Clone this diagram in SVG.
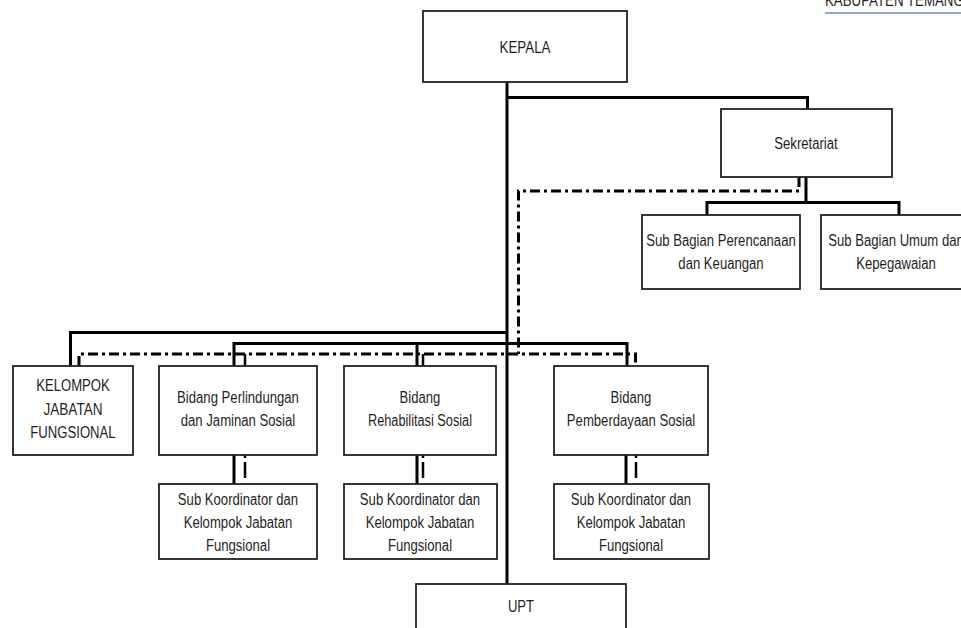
<svg xmlns="http://www.w3.org/2000/svg" width="961" height="628" viewBox="0 0 961 628">
<style>
.box{fill:#fff;stroke:#222;stroke-width:1.8}
.t{font-family:"Liberation Sans Narrow","Liberation Sans",Arial,sans-serif;font-size:16px;fill:#1f1f1f;text-anchor:middle}
.s{fill:none;stroke:#000;stroke-width:3}
.d{fill:none;stroke:#000;stroke-width:3;stroke-dasharray:10 4 3 4}
</style>
<rect width="961" height="628" fill="#fff"/>
<g id="header">
<text class="t" x="825" y="6" style="text-anchor:start" textLength="178.6" lengthAdjust="spacingAndGlyphs">KABUPATEN TEMANGGUNG</text>
<line x1="825" y1="13" x2="961" y2="13" stroke="#8fa8d6" stroke-width="2"/>
</g>
<g id="connectors">
<path class="s" d="M507 82V584M507 97.5H807.5V109M806 177V202.5M707 215V202.5H899V215M70.5 366V332.5H507M234 366V343.5H627V366M417 343.5V366M234 455V484M417 455V484M626 455V484"/>
<path class="d" d="M799 177V191H518.5V354"/>
<path class="d" d="M79 366V354H635.5V366"/>
<path class="s" d="M245 354V366M423 354V366" style="stroke-width:2.5"/>
<path class="s" d="M245 455V458M245 462V478M423 455V458M423 462V478M636 455V458M636 462V478" style="stroke-width:2.5"/>
</g>
<g id="kepala"><rect class="box" x="423" y="11" width="204" height="71"/>
<text class="t" x="525" y="52.5" textLength="51" lengthAdjust="spacingAndGlyphs">KEPALA</text></g>
<g id="sekretariat"><rect class="box" x="721" y="109" width="171" height="68"/>
<text class="t" x="806" y="148.5" textLength="63.4" lengthAdjust="spacingAndGlyphs">Sekretariat</text></g>
<g id="subbag-perencanaan"><rect class="box" x="642" y="215" width="158" height="74"/>
<text class="t" x="721" y="246" textLength="149.5" lengthAdjust="spacingAndGlyphs">Sub Bagian Perencanaan</text>
<text class="t" x="721" y="269" textLength="85.3" lengthAdjust="spacingAndGlyphs">dan Keuangan</text></g>
<g id="subbag-umum"><rect class="box" x="821" y="215" width="160" height="74"/>
<text class="t" x="896" y="246" textLength="135.6" lengthAdjust="spacingAndGlyphs">Sub Bagian Umum dan</text>
<text class="t" x="896" y="269" textLength="79.5" lengthAdjust="spacingAndGlyphs">Kepegawaian</text></g>
<g id="kelompok-jabatan"><rect class="box" x="13" y="366" width="120" height="89"/>
<text class="t" x="73" y="391" textLength="73.6" lengthAdjust="spacingAndGlyphs">KELOMPOK</text>
<text class="t" x="73" y="414.5" textLength="59.1" lengthAdjust="spacingAndGlyphs">JABATAN</text>
<text class="t" x="73" y="437.5" textLength="85.3" lengthAdjust="spacingAndGlyphs">FUNGSIONAL</text></g>
<g id="bidang-perlindungan"><rect class="box" x="159" y="366" width="158" height="89"/>
<text class="t" x="238" y="403" textLength="121.8" lengthAdjust="spacingAndGlyphs">Bidang Perlindungan</text>
<text class="t" x="238" y="426" textLength="114.5" lengthAdjust="spacingAndGlyphs">dan Jaminan Sosial</text></g>
<g id="bidang-rehabilitasi"><rect class="box" x="344" y="366" width="152" height="89"/>
<text class="t" x="420" y="403" textLength="40.8" lengthAdjust="spacingAndGlyphs">Bidang</text>
<text class="t" x="420" y="426" textLength="104" lengthAdjust="spacingAndGlyphs">Rehabilitasi Sosial</text></g>
<g id="bidang-pemberdayaan"><rect class="box" x="554" y="366" width="154" height="89"/>
<text class="t" x="631" y="403" textLength="40.8" lengthAdjust="spacingAndGlyphs">Bidang</text>
<text class="t" x="631" y="426" textLength="128.3" lengthAdjust="spacingAndGlyphs">Pemberdayaan Sosial</text></g>
<g id="subkoor-1"><rect class="box" x="159" y="484" width="158" height="75"/>
<text class="t" x="238" y="505" textLength="120.3" lengthAdjust="spacingAndGlyphs">Sub Koordinator dan</text>
<text class="t" x="238" y="528" textLength="108.7" lengthAdjust="spacingAndGlyphs">Kelompok Jabatan</text>
<text class="t" x="238" y="551" textLength="64.2" lengthAdjust="spacingAndGlyphs">Fungsional</text></g>
<g id="subkoor-2"><rect class="box" x="344" y="484" width="153" height="75"/>
<text class="t" x="420" y="505" textLength="120.3" lengthAdjust="spacingAndGlyphs">Sub Koordinator dan</text>
<text class="t" x="420" y="528" textLength="108.7" lengthAdjust="spacingAndGlyphs">Kelompok Jabatan</text>
<text class="t" x="420" y="551" textLength="64.2" lengthAdjust="spacingAndGlyphs">Fungsional</text></g>
<g id="subkoor-3"><rect class="box" x="554" y="484" width="155" height="75"/>
<text class="t" x="631" y="505" textLength="120.3" lengthAdjust="spacingAndGlyphs">Sub Koordinator dan</text>
<text class="t" x="631" y="528" textLength="108.7" lengthAdjust="spacingAndGlyphs">Kelompok Jabatan</text>
<text class="t" x="631" y="551" textLength="64.2" lengthAdjust="spacingAndGlyphs">Fungsional</text></g>
<g id="upt"><rect class="box" x="416" y="584" width="210" height="60"/>
<text class="t" x="521" y="612" textLength="26.2" lengthAdjust="spacingAndGlyphs">UPT</text></g>
</svg>
